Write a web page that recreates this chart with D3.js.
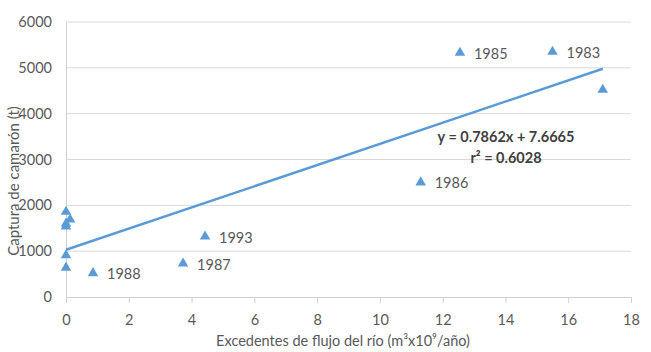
<!DOCTYPE html>
<html>
<head>
<meta charset="utf-8">
<script src="https://cdn.jsdelivr.net/npm/d3@7"></script>
<style>
  body { margin: 0; background: #fff; }
  text { font-family: Lato, "Open Sans", sans-serif; }
</style>
</head>
<body>
<svg id="chart"></svg>
<script>
// data
var flujo   = [0, 0, 0, 0.13, 0, 0, 0.86, 3.73, 4.43, 11.3, 12.55, 15.5, 17.1];
var captura = [1860, 1600, 1540, 1690, 910, 640, 520, 730, 1320, 2500, 5330, 5350, 4520];
var etiquetas = ["", "", "", "", "", "", "1988", "1987", "1993", "1986", "1985", "1983", ""];
var xTicks = [0, 2, 4, 6, 8, 10, 12, 14, 16, 18];
var yTicks = [0, 1000, 2000, 3000, 4000, 5000, 6000];
// trend line as drawn (intercept, slope) and its printed equation
var trendIntercept = 1030;
var trendSlope = 231;
var trendText = ["y = 0.7862x + 7.6665", "r² = 0.6028"];

var width = 651, height = 352;
var margin = { left: 66, right: 20, top: 22, bottom: 55 };
var azul = "#5b9bd5", gris = "#595959";

var xScale = d3.scaleLinear()
               .domain([0, 18])
               .range([margin.left, width - margin.right]);
var yScale = d3.scaleLinear()
               .domain([0, 6000])
               .range([height - margin.bottom, margin.top]);

var svg = d3.select("#chart")
            .attr("width", width)
            .attr("height", height);

// gridlines
svg.append("g").selectAll("line")
   .data(yTicks.slice(1)).enter()
   .append("line")
   .attr("x1", xScale(0)).attr("x2", xScale(18))
   .attr("y1", function(d){ return yScale(d); })
   .attr("y2", function(d){ return yScale(d); })
   .attr("stroke", "#d9d9d9").attr("stroke-width", 1);

// axes
var x_axis = d3.axisBottom(xScale).tickValues(xTicks).tickFormat(d3.format("d")).tickSize(6).tickPadding(12);
var y_axis = d3.axisLeft(yScale).tickValues(yTicks).tickFormat(d3.format("d")).tickSize(0).tickPadding(14);

var gx = svg.append("g").attr("transform", "translate(0," + yScale(0) + ")").call(x_axis);
var gy = svg.append("g").attr("transform", "translate(" + xScale(0) + ",0)").call(y_axis);
[gx, gy].forEach(function(g){
  g.select(".domain").attr("stroke", "#d0d0d0");
  g.selectAll(".tick line").attr("stroke", "#d0d0d0");
  g.selectAll(".tick text").attr("fill", gris).attr("font-size", 14.5)
   .attr("font-family", "Lato, 'Open Sans', sans-serif");
});

// trend line
svg.append("line")
   .attr("x1", xScale(0)).attr("y1", yScale(trendIntercept))
   .attr("x2", xScale(17.1)).attr("y2", yScale(trendIntercept + trendSlope * 17.1))
   .attr("stroke", azul).attr("stroke-width", 2.5);

// points
var pts = flujo.map(function(d, i){ return { x: d, y: captura[i], lab: etiquetas[i] }; });
svg.append("g").selectAll("path")
   .data(pts).enter()
   .append("path")
   .attr("d", d3.symbol().type(d3.symbolTriangle).size(48))
   .attr("transform", function(d){ return "translate(" + xScale(d.x) + "," + yScale(d.y) + ")"; })
   .attr("fill", azul);

svg.append("g").selectAll("text")
   .data(pts.filter(function(d){ return d.lab; })).enter()
   .append("text")
   .attr("x", function(d){ return xScale(d.x) + 14; })
   .attr("y", function(d){ return yScale(d.y) + 6; })
   .attr("fill", gris).attr("font-size", 14.5)
   .text(function(d){ return d.lab; });

// equation
svg.append("g").selectAll("text")
   .data(trendText).enter()
   .append("text")
   .attr("x", 506)
   .attr("y", function(d, i){ return 142 + i * 21; })
   .attr("text-anchor", "middle")
   .attr("font-weight", "bold").attr("font-size", 14.5)
   .attr("fill", "#404040")
   .text(function(d){ return d; });

// axis titles
svg.append("text")
   .attr("transform", "translate(19,181) rotate(-90)")
   .attr("text-anchor", "middle")
   .attr("fill", gris).attr("font-size", 15)
   .text("Captura de camarón (t)");

svg.append("text")
   .attr("x", 343).attr("y", 346)
   .attr("text-anchor", "middle")
   .attr("fill", gris).attr("font-size", 14.5)
   .text("Excedentes de flujo del río (m³x10⁹/año)");
</script>
</body>
</html>
